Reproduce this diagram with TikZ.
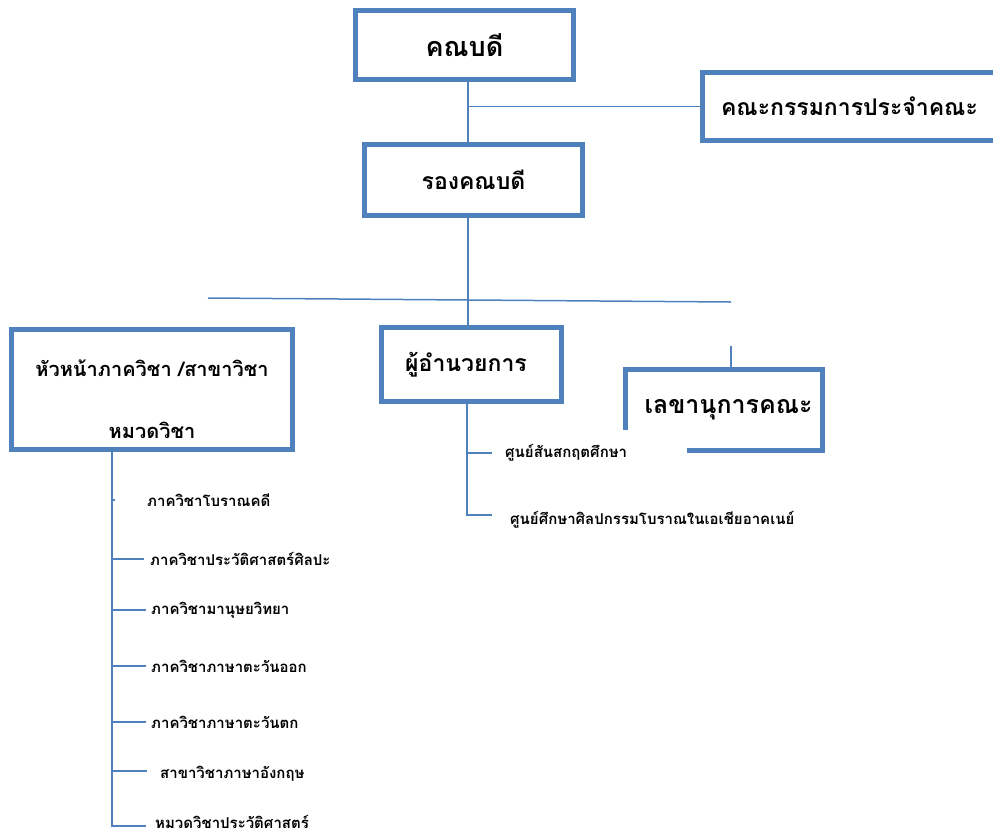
\documentclass[tikz,border=0pt]{standalone}
\usepackage{fontspec}
\newfontfamily\thaifont[Script=Thai]{Loma}
\usetikzlibrary{positioning}
\definecolor{orgblue}{RGB}{79,129,189}

\begin{document}
\begin{tikzpicture}[x=1pt, y=-1pt,
    post/.style={draw=orgblue, line width=5pt, inner sep=0pt, align=center,
        font=\thaifont\bfseries\fontsize{23}{27}\selectfont},
    unit/.style={inner sep=1pt, anchor=west, font=\thaifont\bfseries\fontsize{15}{18}\selectfont},
    link/.style={draw=orgblue, line width=1.5pt}]
    \useasboundingbox (0,0) rectangle (993,836);
    \clip (0,0) rectangle (993,836);

    % top of the chart
    \node[post, minimum width=218pt, minimum height=69pt, font=\thaifont\bfseries\fontsize{27}{30}\selectfont] (dean) at (464.5,45) {คณบดี};
    \node[post, minimum width=310pt, minimum height=68pt] (board) at (857,106.5) {\hspace*{-15pt}คณะกรรมการประจำคณะ};
    \node[post, minimum width=218pt, minimum height=71pt] (vice) at (473.5,180) {รองคณบดี};
    \coordinate (spine) at (468,300);
    \coordinate (barL) at (208,298);
    \coordinate (barR) at (731,302);

    \draw[link] (dean.south -| spine) -- (vice.north -| spine);
    \draw[link] (spine |- board.west) -- (board.west);
    \draw[link] (barL) -- (barR);

    % second level
    \node[post, minimum width=281pt, minimum height=120pt, font=\thaifont\bfseries\fontsize{20}{24}\selectfont] (heads) at (152,389.5)
        {\rule{0pt}{36pt}หัวหน้าภาควิชา /สาขาวิชา\\[38pt]หมวดวิชา};
    \node[post, minimum width=180pt, minimum height=74pt] (director) at (471.5,364.5) {\hspace*{-11pt}ผู้อำนวยการ};
    \node[post, draw=none, minimum width=192pt, minimum height=76pt, font=\thaifont\bfseries\fontsize{25}{29}\selectfont] (secretary) at (723.5,409.5) {\hspace*{10pt}เลขานุการคณะ};
    \draw[post] ([yshift=20pt]secretary.south west) |- (secretary.north east) |- ([xshift=62pt]secretary.south west);
    \coordinate (secstub) at (731,346);

    \draw[link] (vice.south -| spine) -- (director.north -| spine);
    \draw[link] (secstub) -- (secstub |- secretary.north);

    % centres under the director
    \coordinate (ctrunk) at (467,404);
    \coordinate (cb1) at (492,453);
    \coordinate (cb2) at (492,515);
    \node[unit, right=12pt of cb1] (centre1) {ศูนย์สันสกฤตศึกษา};
    \node[unit, right=17pt of cb2, yshift=-5pt] (centre2) {ศูนย์ศึกษาศิลปกรรมโบราณในเอเชียอาคเนย์};
    \draw[link] (director.south -| ctrunk) |- (cb2);
    \draw[link] (ctrunk |- cb1) -- (cb1);

    % departments under the heads
    \coordinate (dtrunk) at (112,452);
    \coordinate (db1) at (115,500);
    \coordinate (db2) at (144,559);
    \coordinate (db3) at (146,610);
    \coordinate (db4) at (146,666);
    \coordinate (db5) at (146,722);
    \coordinate (db6) at (147,771);
    \coordinate (db7) at (146,826);
    \node[unit, right=31pt of db1] (dept1) {ภาควิชาโบราณคดี};
    \node[unit, right=5pt of db2] (dept2) {ภาควิชาประวัติศาสตร์ศิลปะ};
    \node[unit, right=4pt of db3] (dept3) {ภาควิชามานุษยวิทยา};
    \node[unit, right=4pt of db4] (dept4) {ภาควิชาภาษาตะวันออก};
    \node[unit, right=4pt of db5] (dept5) {ภาควิชาภาษาตะวันตก};
    \node[unit, right=12pt of db6, yshift=-3pt] (dept6) {สาขาวิชาภาษาอังกฤษ};
    \node[unit, right=8pt of db7, yshift=4pt] (dept7) {หมวดวิชาประวัติศาสตร์};

    \draw[link] (heads.south -| dtrunk) |- (db7);
    \draw[link] (dtrunk |- db1) -- (db1);
    \draw[link] (dtrunk |- db2) -- (db2);
    \draw[link] (dtrunk |- db3) -- (db3);
    \draw[link] (dtrunk |- db4) -- (db4);
    \draw[link] (dtrunk |- db5) -- (db5);
    \draw[link] (dtrunk |- db6) -- (db6);
\end{tikzpicture}
\end{document}
